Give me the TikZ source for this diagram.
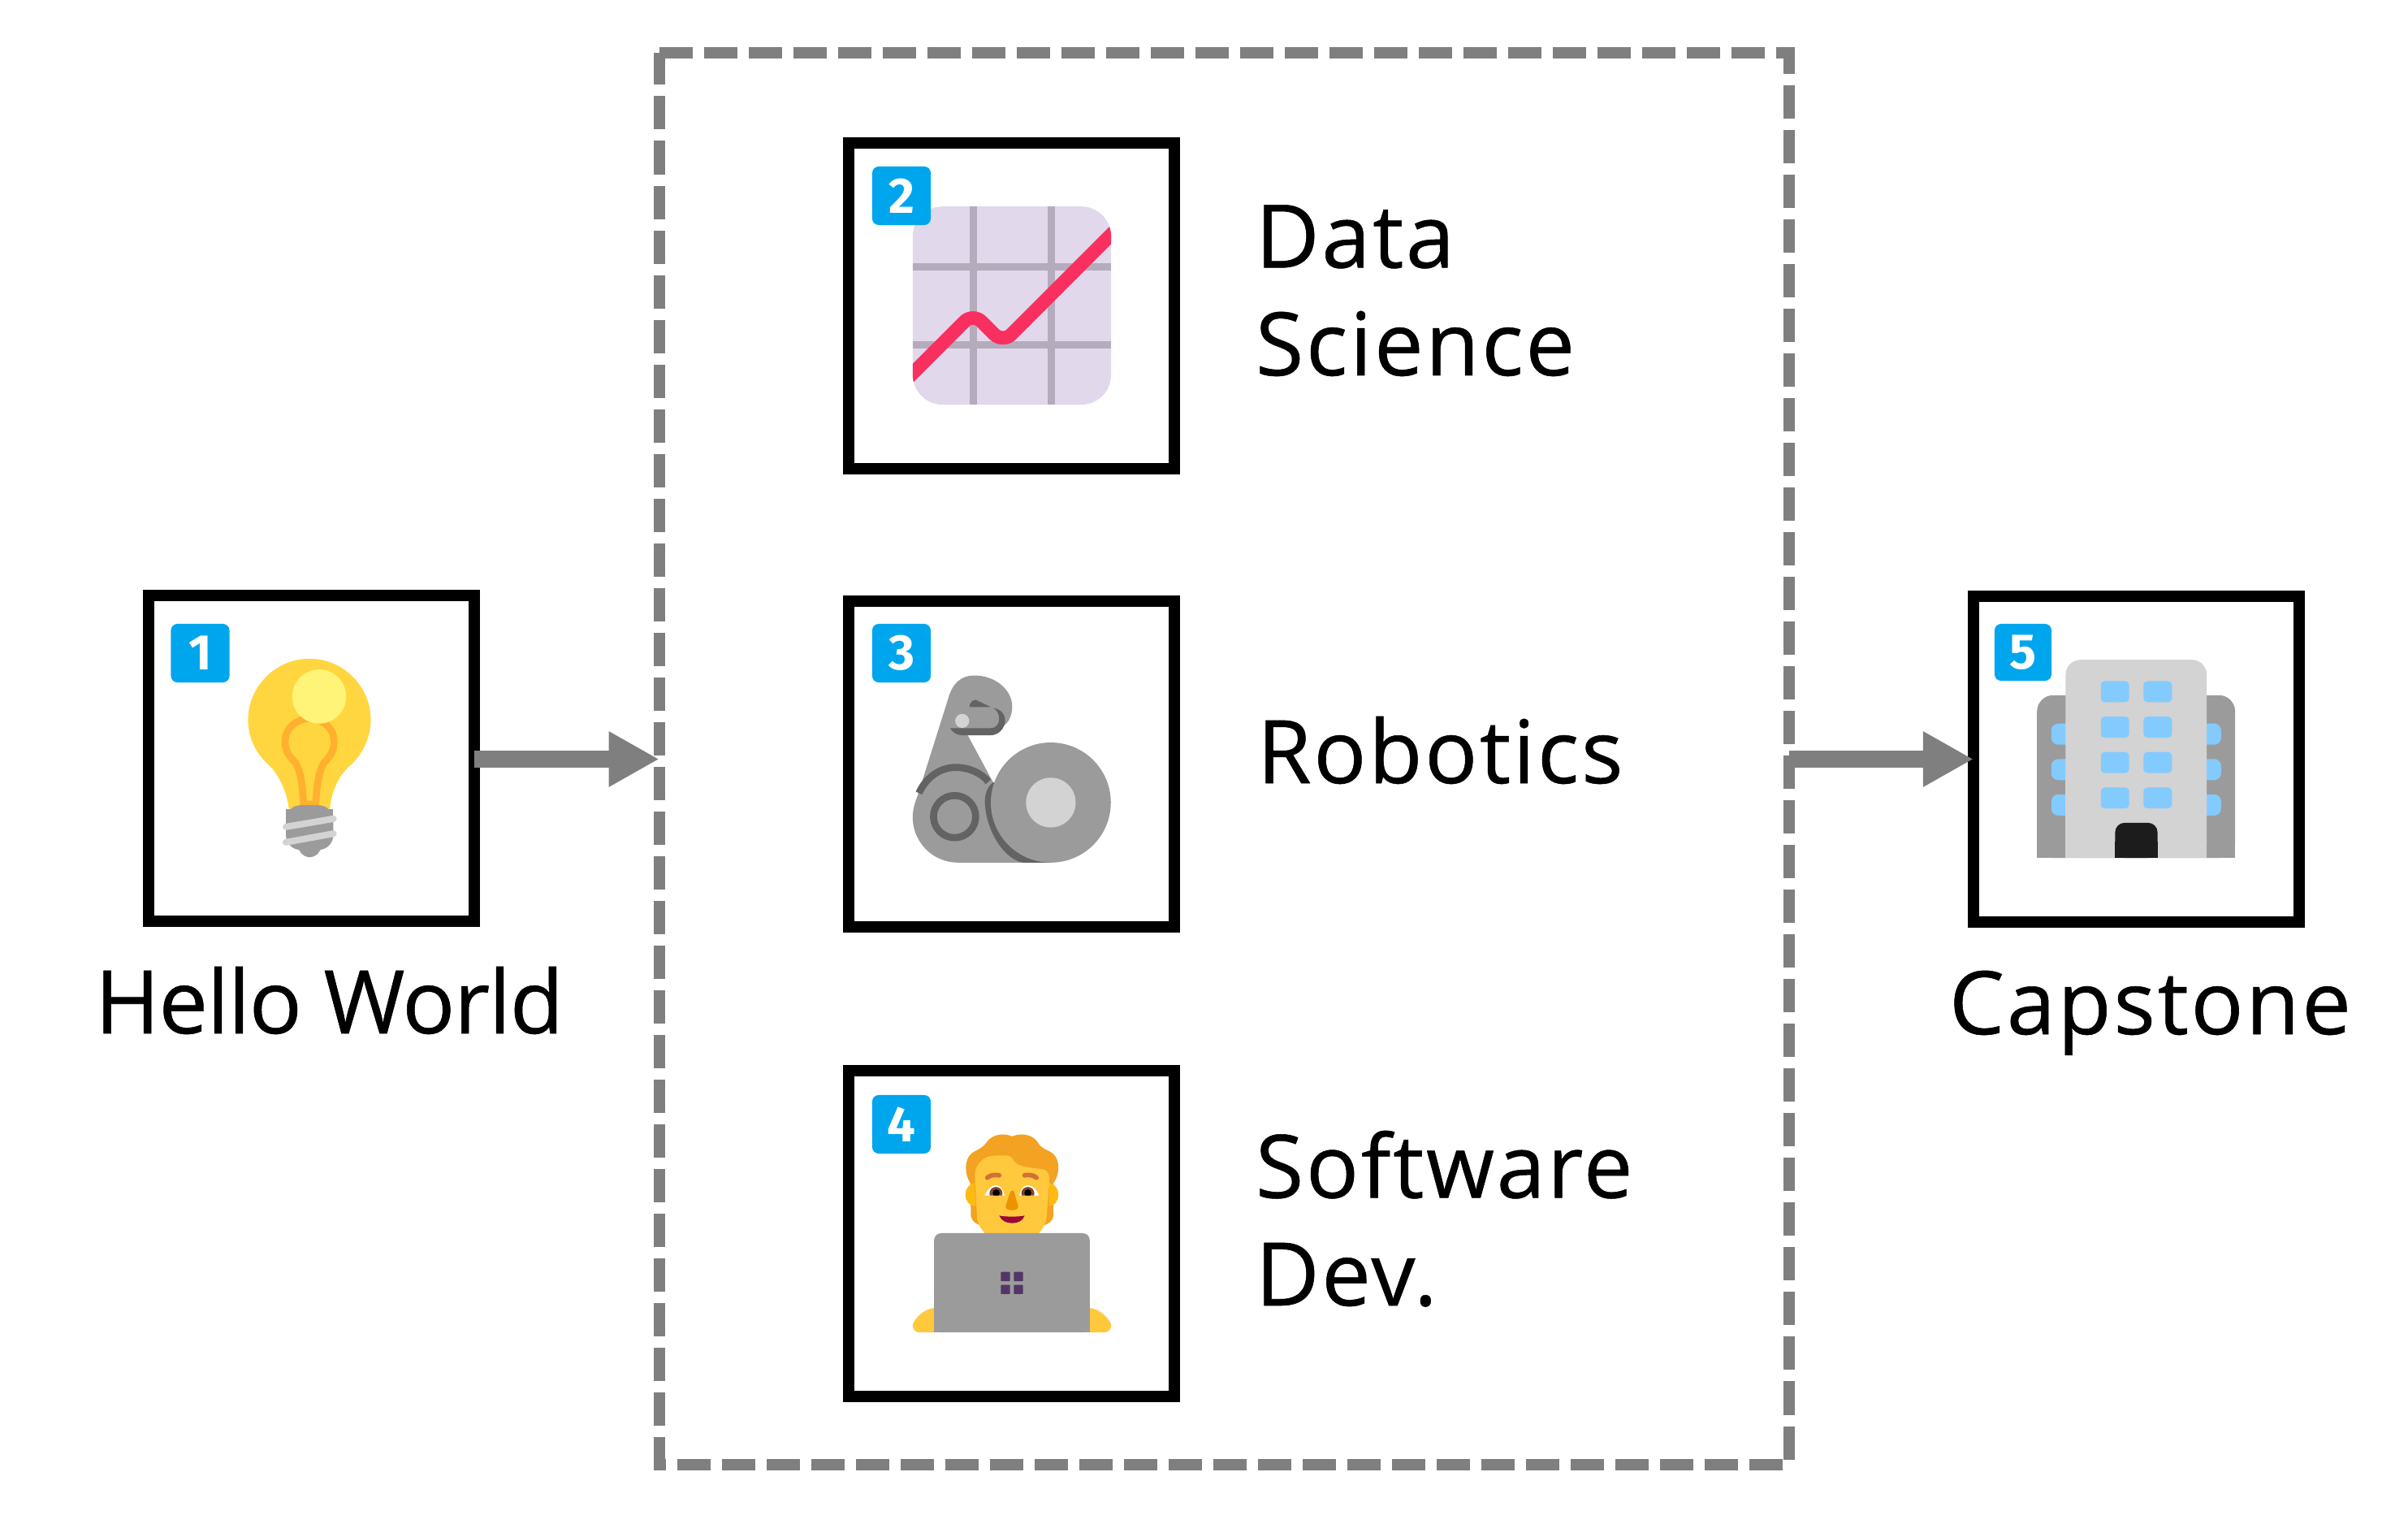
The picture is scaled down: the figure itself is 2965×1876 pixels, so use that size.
\documentclass[tikz,border=0pt]{standalone}
\usepackage{fontspec}
\usetikzlibrary{arrows.meta}
\setmainfont{Open Sans}
\newfontfamily\labelfont[LetterSpace=2.5,FakeBold=0.5]{Open Sans}
\newfontfamily\labelfonttight[LetterSpace=-1.2,FakeBold=0.5]{Open Sans}
\newfontfamily\badgefont{Fira Sans}
\def\pxu{0.28453pt}
\def\zu{0.09484pt}
\definecolor{frameblack}{HTML}{000000}
\definecolor{dashgray}{HTML}{7F7F7F}
\definecolor{badgeblue}{HTML}{00A6ED}
\definecolor{fluentgray}{HTML}{9B9B9B}
\definecolor{fluentlight}{HTML}{D3D3D3}
\definecolor{fluentdark}{HTML}{636363}
\definecolor{chartbg}{HTML}{E1D8EC}
\definecolor{chartgrid}{HTML}{B4ACBC}
\definecolor{chartred}{HTML}{F92F60}
\definecolor{bulb}{HTML}{FFD63F}
\definecolor{bulbhi}{HTML}{FFF478}
\definecolor{bulbfil}{HTML}{FFB02E}
\definecolor{hair}{HTML}{F3A221}
\definecolor{skin}{HTML}{FFC83D}
\definecolor{ear}{HTML}{FDBB11}
\definecolor{brow}{HTML}{D37034}
\definecolor{nose}{HTML}{ED9200}
\definecolor{mouth}{HTML}{990839}
\definecolor{iris}{HTML}{7D4533}
\definecolor{logo}{HTML}{533566}
\definecolor{window}{HTML}{83CBFF}
\definecolor{door}{HTML}{1C1C1C}
\tikzset{
  frame/.style={draw=frameblack,line width=14*\pxu,fill=white,rectangle,minimum width=4.01cm,minimum height=4.01cm,outer sep=0pt,inner sep=0pt},
  dashframe/.style={rectangle,outer sep=0pt,inner sep=0pt,minimum width=13.91cm,minimum height=17.36cm},
  dashline/.style={draw=dashgray,line width=14*\pxu,dash pattern=on 41*\pxu off 14*\pxu},
  flow/.style={draw=dashgray,line width=21*\pxu,-{Triangle[length=62*\pxu,width=64*\pxu,fill=dashgray]}},
  badge/.style={fill=badgeblue,rounded corners=8*\pxu,inner sep=0pt,outer sep=0pt,minimum size=0.72cm,text=white,font={\badgefont\bfseries\fontsize{17.5pt}{20pt}\selectfont}},
  lab/.style={anchor=base west,inner sep=0pt,outer sep=0pt,align=left,text=black,font={\labelfont\fontsize{30.7pt}{37.7pt}\selectfont}},
  zoomed/.style={x=0.0033333cm,y=-0.0033333cm},
}
\begin{document}
\begin{tikzpicture}[x=0.01cm,y=-0.01cm]
\useasboundingbox (0,0) rectangle (2965,1876);
\fill[white] (0,0) rectangle (2965,1876);
% dashed group
\node[dashframe] (group) at (1507.5,934) {};
\draw[dashline] (group.north west) -- (group.north east) -- (group.south east) -- (group.south west) -- cycle;
% frames
\node[frame] (box1) at (383.5,933.5) {};
\node[frame] (box2) at (1245.5,376.5) {};
\node[frame] (box3) at (1245.5,940.5) {};
\node[frame] (box4) at (1245.5,1518.5) {};
\node[frame] (box5) at (2630.5,934.5) {};
% connectors
\draw[flow] ([yshift=-1*\pxu]box1.east) -- ([yshift=-1*\pxu]box1.east -| group.west);
\draw[flow] (box5.west -| group.east) -- (box5.west);
% icon 1 bulb
\begin{scope}[shift={(170,720)},zoomed]
\fill[bulb] (558,828) .. controls (550,760) and (520,705) .. (490,672) .. controls (440,630) and (407,570) .. (407,500) .. controls (407,375) and (510,273) .. (634,273) .. controls (760,273) and (861,375) .. (861,500) .. controls (861,570) and (825,635) .. (780,672) .. controls (745,705) and (715,760) .. (710,828) -- cycle;
\draw[bulbfil,line width=26*\zu] (613,828) .. controls (610,760) and (605,690) .. (580,655) .. controls (555,630) and (544,610) .. (544,580) .. controls (544,530) and (585,495) .. (634,495) .. controls (685,495) and (725,530) .. (725,580) .. controls (725,610) and (712,635) .. (690,655) .. controls (665,690) and (660,760) .. (656,828);
\fill[bulbfil] (600,800) rectangle (668,828);
\fill[bulbhi] (670,413) circle[radius=100];
\fill[fluentgray,rounded corners=54*\zu] (547,815) rectangle (722,980);
\fill[fluentgray] (547,828) rectangle (722,900);
\fill[fluentgray] (635,965) circle[radius=42];
\draw[fluentlight,line width=24*\zu,line cap=round] (547,895) -- (723,865);
\draw[fluentlight,line width=24*\zu,line cap=round] (547,952) -- (723,920);
\end{scope}
% icon 2 chart
\begin{scope}[shift={(1020,160)},zoomed]
\fill[chartbg,rounded corners=110*\zu] (312,283) rectangle (1046,1016);
\fill[chartgrid] (522,283) rectangle (549,1016);
\fill[chartgrid] (810,283) rectangle (837,1016);
\fill[chartgrid] (312,492) rectangle (1046,519);
\fill[chartgrid] (312,780) rectangle (1046,807);
\begin{scope}
\clip[rounded corners=110*\zu] (312,283) rectangle (1046,1016);
\draw[chartred,line width=50*\zu,rounded corners=45*\zu] (270,942) -- (535,677) -- (645.5,787.5) -- (1090,343);
\end{scope}
\end{scope}
% icon 3 robot arm
\begin{scope}[shift={(1020,730)},zoomed]
\fill[fluentgray] (330,750) -- (445,385) .. controls (460,335) and (490,305) .. (540,305) .. controls (620,305) and (680,360) .. (680,420) .. controls (680,455) and (665,480) .. (650,490) -- (610,525) -- (515,525) -- (612,705) -- (823,997) -- (480,997) .. controls (385,997) and (312,920) .. (312,830) .. controls (312,800) and (320,775) .. (330,750) -- cycle;
\fill[fluentdark] (610,700) .. controls (588,715) and (578,745) .. (579,775) .. controls (583,880) and (650,985) .. (720,997) -- (823,997) -- (823,775) -- cycle;
\fill[fluentgray] (823,775) circle[radius=222];
\draw[fluentdark,line width=26*\zu] (335,740) .. controls (365,675) and (420,645) .. (470,645) .. controls (520,645) and (565,665) .. (592,698);
\draw[fluentdark,line width=26*\zu] (467,827) circle[radius=78];
\fill[fluentlight] (823,775) circle[radius=92];
\fill[fluentdark] (450,500) -- (600,500) .. controls (620,500) and (632,485) .. (632,465) .. controls (632,445) and (622,432) .. (610,425) .. controls (640,430) and (654,450) .. (654,470) .. controls (654,500) and (630,526) .. (600,526) -- (495,526) .. controls (475,526) and (460,515) .. (450,500) -- cycle;
\fill[fluentdark] (522,422) .. controls (522,405) and (535,395) .. (545,395) -- (602,422) -- cycle;
\fill[fluentlight] (495,473) circle[radius=26];
\end{scope}
% icon 4 person
\begin{scope}[shift={(1020,1300)},zoomed]
\fill[hair] (527,590) .. controls (527,560) and (525,500) .. (525,470) .. controls (505,440) and (500,385) .. (530,360) .. controls (550,345) and (565,345) .. (585,320) .. controls (600,295) and (640,280) .. (680,297) .. controls (720,280) and (760,295) .. (775,320) .. controls (790,345) and (810,345) .. (830,360) .. controls (860,385) and (855,440) .. (833,470) .. controls (833,500) and (833,560) .. (833,590) .. controls (830,610) and (815,620) .. (800,625) -- (560,625) .. controls (545,620) and (530,610) .. (527,590) -- cycle;
\fill[ear] (540,470) .. controls (515,475) and (507,495) .. (507,513) .. controls (507,535) and (520,555) .. (545,555) -- cycle;
\fill[ear] (818,470) .. controls (843,475) and (851,495) .. (851,513) .. controls (851,535) and (838,555) .. (815,555) -- cycle;
\fill[skin] (542,440) .. controls (542,400) and (575,368) .. (615,368) -- (660,368) .. controls (680,368) and (680,385) .. (700,400) .. controls (730,415) and (780,415) .. (800,420) .. controls (812,425) and (818,440) .. (818,460) -- (807,600) .. controls (805,625) and (790,640) .. (775,660) -- (583,660) .. controls (565,640) and (555,625) .. (550,600) -- cycle;
\draw[brow,line width=17*\zu,line cap=round] (588,450) .. controls (600,440) and (615,438) .. (632,441);
\draw[brow,line width=17*\zu,line cap=round] (770,450) .. controls (758,440) and (743,438) .. (726,441);
\fill[white] (578,516) .. controls (590,490) and (605,478) .. (620,478) .. controls (635,478) and (645,490) .. (652,516) -- cycle;
\fill[white] (780,516) .. controls (768,490) and (753,478) .. (738,478) .. controls (723,478) and (713,490) .. (706,516) -- cycle;
\begin{scope}
\clip (578,516) .. controls (590,490) and (605,478) .. (620,478) .. controls (635,478) and (645,490) .. (652,516) -- cycle;
\fill[iris] (620,508) circle[radius=24];
\fill[black] (621,506) circle[radius=13];
\end{scope}
\begin{scope}
\clip (780,516) .. controls (768,490) and (753,478) .. (738,478) .. controls (723,478) and (713,490) .. (706,516) -- cycle;
\fill[iris] (738,508) circle[radius=24];
\fill[black] (738,506) circle[radius=13];
\end{scope}
\fill[nose] (672,505) .. controls (678,495) and (683,495) .. (688,505) -- (702,555) .. controls (702,565) and (695,570) .. (680,570) .. controls (665,570) and (656,565) .. (656,555) -- cycle;
\fill[mouth] (632,590) .. controls (650,595) and (710,595) .. (726,590) .. controls (720,610) and (700,618) .. (680,618) .. controls (660,618) and (640,610) .. (632,590) -- cycle;
\fill[skin] (391,932) .. controls (355,935) and (325,965) .. (313,990) .. controls (308,1005) and (320,1022) .. (335,1022) -- (391,1022) -- cycle;
\fill[skin] (967,932) .. controls (1003,935) and (1033,965) .. (1045,990) .. controls (1050,1005) and (1038,1022) .. (1023,1022) -- (967,1022) -- cycle;
\fill[fluentgray,rounded corners=26*\zu] (391,1022) -- (391,655) -- (967,655) -- (967,1022) -- cycle;
\fill[fluentgray] (391,800) rectangle (967,1022);
\fill[logo,rounded corners=0.2pt] (638,798) rectangle (672,833);
\fill[logo,rounded corners=0.2pt] (686,798) rectangle (720,833);
\fill[logo,rounded corners=0.2pt] (638,846) rectangle (672,880);
\fill[logo,rounded corners=0.2pt] (686,846) rectangle (720,880);
\end{scope}
% icon 5 building
\begin{scope}[shift={(2420,720)},zoomed]
\fill[fluentgray,rounded corners=60*\zu] (265,1010) -- (265,408) -- (998,408) -- (998,1010) -- cycle;
\fill[fluentgray] (265,700) rectangle (998,1010);
\foreach \wy in {513,644,775} {
  \fill[window,rounded corners=25*\zu] (318,\wy) rectangle (430,\wy+78);
  \fill[window,rounded corners=25*\zu] (834,\wy) rectangle (946,\wy+78);
}
\fill[fluentlight,rounded corners=55*\zu] (371,1010) -- (371,277) -- (893,277) -- (893,1010) -- cycle;
\fill[fluentlight] (371,700) rectangle (893,1010);
\foreach \wy in {356,487,618,749} {
  \fill[window,rounded corners=14*\zu] (501,\wy) rectangle (606,\wy+78);
  \fill[window,rounded corners=14*\zu] (659,\wy) rectangle (764,\wy+78);
}
\fill[door,rounded corners=35*\zu] (554,1010) -- (554,880) -- (711,880) -- (711,1010) -- cycle;
\fill[door] (554,950) rectangle (711,1010);
\end{scope}
% badges
\node[badge] (b1) at (246.5,804) {1};
\node[badge] (b2) at (1110,241) {2};
\node[badge] (b3) at (1110,804) {3};
\node[badge] (b4) at (1110,1384) {4};
\node[badge,minimum size=0.70cm] (b5) at (2491,803) {5};
% labels
\node[lab,font={\labelfonttight\fontsize{30.7pt}{37.7pt}\selectfont}] (l1) at (117,1272) {Hello World};
\node[lab] (l2) at (1546,462) {Data\\Science};
\node[lab] (l3) at (1548,964) {Robotics};
\node[lab] (l4) at (1546,1607) {Software\\Dev.};
\node[lab] (l5) at (2400,1273) {Capstone};
\end{tikzpicture}
\end{document}
